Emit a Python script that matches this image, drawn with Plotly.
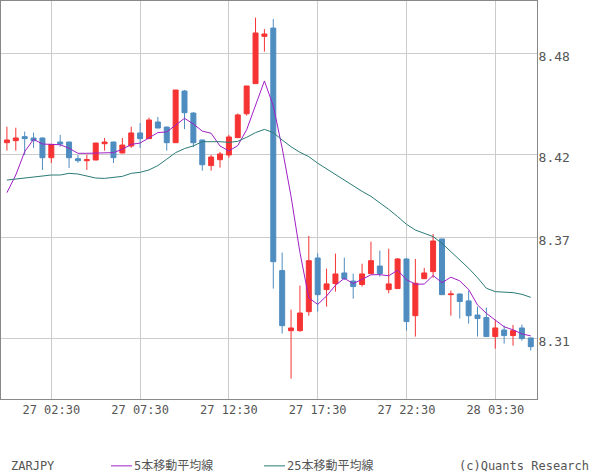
import pandas as pd
import plotly.graph_objects as go

# ---- data ----
times = pd.date_range("2024-03-27 00:00", periods=60, freq="30min")

opens = [8.4269, 8.4281, 8.4305, 8.4297, 8.4297, 8.4180, 8.4273, 8.4273, 8.4174, 8.4162,
         8.4166, 8.4263, 8.4273, 8.4208, 8.4249, 8.4327, 8.4293, 8.4392, 8.4362, 8.4269,
         8.4576, 8.4445, 8.4285, 8.4133, 8.4168, 8.4196, 8.4299, 8.4441, 8.4620, 8.4901,
         8.4950, 8.3509, 8.3152, 8.3152, 8.3265, 8.3584, 8.3396, 8.3432, 8.3495, 8.3447,
         8.3426, 8.3491, 8.3536, 8.3396, 8.3402, 8.3578, 8.3241, 8.3461, 8.3503, 8.3697,
         8.3366, 8.3370, 8.3329, 8.3245, 8.3230, 8.3117, 8.3156, 8.3123, 8.3168, 8.3109]
highs = [8.4364, 8.4358, 8.4335, 8.4329, 8.4300, 8.4259, 8.4315, 8.4275, 8.4196, 8.4198,
         8.4267, 8.4297, 8.4275, 8.4297, 8.4364, 8.4386, 8.4418, 8.4422, 8.4364, 8.4582,
         8.4582, 8.4451, 8.4287, 8.4196, 8.4214, 8.4315, 8.4443, 8.4606, 8.5012, 8.4944,
         8.5004, 8.3616, 8.3277, 8.3420, 8.3715, 8.3612, 8.3521, 8.3610, 8.3586, 8.3491,
         8.3550, 8.3681, 8.3628, 8.3639, 8.3584, 8.3584, 8.3578, 8.3525, 8.3727, 8.3697,
         8.3390, 8.3372, 8.3390, 8.3295, 8.3289, 8.3216, 8.3182, 8.3186, 8.3188, 8.3109]
lows = [8.4222, 8.4222, 8.4196, 8.4238, 8.4107, 8.4148, 8.4245, 8.4119, 8.4150, 8.4107,
        8.4166, 8.4222, 8.4148, 8.4206, 8.4238, 8.4238, 8.4293, 8.4356, 8.4222, 8.4269,
        8.4350, 8.4243, 8.4103, 8.4103, 8.4121, 8.4180, 8.4299, 8.4430, 8.4620, 8.4810,
        8.3402, 8.3135, 8.2867, 8.3146, 8.3241, 8.3265, 8.3295, 8.3384, 8.3453, 8.3342,
        8.3414, 8.3491, 8.3473, 8.3374, 8.3402, 8.3152, 8.3117, 8.3461, 8.3467, 8.3366,
        8.3241, 8.3224, 8.3194, 8.3117, 8.3117, 8.3045, 8.3075, 8.3063, 8.3093, 8.3034]
closes = [8.4285, 8.4297, 8.4293, 8.4281, 8.4180, 8.4259, 8.4261, 8.4180, 8.4162, 8.4168,
          8.4267, 8.4273, 8.4180, 8.4255, 8.4327, 8.4293, 8.4404, 8.4356, 8.4269, 8.4582,
          8.4447, 8.4269, 8.4138, 8.4184, 8.4202, 8.4303, 8.4434, 8.4606, 8.4921, 8.4915,
          8.3562, 8.3182, 8.3168, 8.3257, 8.3568, 8.3366, 8.3430, 8.3489, 8.3461, 8.3414,
          8.3489, 8.3568, 8.3491, 8.3430, 8.3578, 8.3206, 8.3434, 8.3495, 8.3685, 8.3366,
          8.3370, 8.3325, 8.3241, 8.3224, 8.3117, 8.3168, 8.3123, 8.3152, 8.3105, 8.3057]

ma5 = [8.3972, 8.4077, 8.4216, 8.4289, 8.4261, 8.4257, 8.4257, 8.4236, 8.4206, 8.4206,
       8.4206, 8.4206, 8.4210, 8.4230, 8.4259, 8.4267, 8.4299, 8.4329, 8.4333, 8.4374,
       8.4414, 8.4380, 8.4338, 8.4325, 8.4249, 8.4220, 8.4252, 8.4346, 8.4493, 8.4636,
       8.4488, 8.4237, 8.3950, 8.3617, 8.3347, 8.3308, 8.3358, 8.3422, 8.3463, 8.3432,
       8.3457, 8.3484, 8.3485, 8.3478, 8.3511, 8.3455, 8.3428, 8.3429, 8.3480, 8.3437,
       8.3470, 8.3448, 8.3397, 8.3305, 8.3255, 8.3215, 8.3175, 8.3157, 8.3133, 8.3121]
ma25 = [8.4047, 8.4053, 8.4061, 8.4067, 8.4073, 8.4077, 8.4077, 8.4087, 8.4083, 8.4071,
        8.4059, 8.4057, 8.4061, 8.4069, 8.4087, 8.4093, 8.4107, 8.4133, 8.4171, 8.4210,
        8.4234, 8.4250, 8.4275, 8.4277, 8.4275, 8.4271, 8.4277, 8.4301, 8.4329, 8.4348,
        8.4329, 8.4285, 8.4245, 8.4212, 8.4186, 8.4147, 8.4113, 8.4077, 8.4047, 8.4010,
        8.3980, 8.3950, 8.3913, 8.3873, 8.3830, 8.3784, 8.3750, 8.3731, 8.3711, 8.3671,
        8.3622, 8.3576, 8.3523, 8.3467, 8.3404, 8.3384, 8.3380, 8.3378, 8.3368, 8.3350]

x_tick_times = ["2024-03-27 02:30", "2024-03-27 07:30", "2024-03-27 12:30",
                "2024-03-27 17:30", "2024-03-27 22:30", "2024-03-28 03:30"]
x_tick_labels = ["27 02:30", "27 07:30", "27 12:30", "27 17:30", "27 22:30", "28 03:30"]
y_tick_values = [8.48, 8.42, 8.3707, 8.3107]
y_tick_labels = ["8.48", "8.42", "8.37", "8.31"]

symbol = "ZARJPY"
ma5_name = "5本移動平均線"
ma25_name = "25本移動平均線"
credit = "(c)Quants Research"

# ---- styles ----
RED = "#f63333"
BLUE = "#4f8dc0"
PURPLE = "#a01fc4"
TEAL = "#2b7b76"
GRID = "#cccccc"
BORDER = "#888888"
TXT = "#555555"
FONT = "DejaVu Sans Mono, Noto Sans CJK JP, monospace"

fig = go.Figure()
fig.add_trace(go.Candlestick(
    x=times, open=opens, high=highs, low=lows, close=closes,
    increasing=dict(line=dict(color=RED, width=1), fillcolor=RED),
    decreasing=dict(line=dict(color=BLUE, width=1), fillcolor=BLUE),
    whiskerwidth=0, showlegend=False, hoverinfo="skip"))
fig.add_trace(go.Scatter(x=times, y=ma5, mode="lines",
                         line=dict(color=PURPLE, width=1), showlegend=False))
fig.add_trace(go.Scatter(x=times, y=ma25, mode="lines",
                         line=dict(color=TEAL, width=1), showlegend=False))

fig.update_layout(
    width=600, height=475,
    margin=dict(l=1, r=63, t=1, b=76),
    paper_bgcolor="white", plot_bgcolor="white",
    boxgap=0.2,
    font=dict(family=FONT, size=12, color=TXT),
    xaxis=dict(
        type="date",
        range=["2024-03-26 23:40", "2024-03-28 05:51"],
        rangeslider=dict(visible=False),
        tickvals=x_tick_times, ticktext=x_tick_labels,
        showgrid=True, gridcolor=GRID, gridwidth=1,
        showline=True, linecolor=BORDER, linewidth=1, mirror=True,
        ticks="", tickfont=dict(family=FONT, size=12, color=TXT),
        zeroline=False,
    ),
    yaxis=dict(
        side="right",
        range=[8.2746, 8.5111],
        tickvals=y_tick_values, ticktext=y_tick_labels,
        showgrid=True, gridcolor=GRID, gridwidth=1,
        showline=True, linecolor=BORDER, linewidth=1, mirror=True,
        ticks="", tickfont=dict(family=FONT, size=13, color=TXT),
        ticklabelstandoff=-2, ticklabelshift=3,
        zeroline=False,
    ),
)

# bottom legend-like labels
fig.add_annotation(xref="paper", yref="paper", x=-0.0, y=-0.168, text=symbol,
                   showarrow=False, xanchor="left", yanchor="middle",
                   font=dict(family=FONT, size=12, color=TXT), xshift=8)
fig.add_shape(type="line", xref="paper", yref="paper",
              x0=110 / 536, x1=131 / 536, y0=-0.168, y1=-0.168,
              line=dict(color=PURPLE, width=1))
fig.add_annotation(xref="paper", yref="paper", x=131 / 536, y=-0.168, text=ma5_name,
                   showarrow=False, xanchor="left", yanchor="middle",
                   font=dict(family=FONT, size=12, color=TXT))
fig.add_shape(type="line", xref="paper", yref="paper",
              x0=263 / 536, x1=284 / 536, y0=-0.168, y1=-0.168,
              line=dict(color=TEAL, width=1))
fig.add_annotation(xref="paper", yref="paper", x=284 / 536, y=-0.168, text=ma25_name,
                   showarrow=False, xanchor="left", yanchor="middle",
                   font=dict(family=FONT, size=12, color=TXT))
fig.add_annotation(xref="paper", yref="paper", x=590 / 536, y=-0.168, text=credit,
                   showarrow=False, xanchor="right", yanchor="middle",
                   font=dict(family=FONT, size=12, color=TXT))

fig.write_html("out.html")
